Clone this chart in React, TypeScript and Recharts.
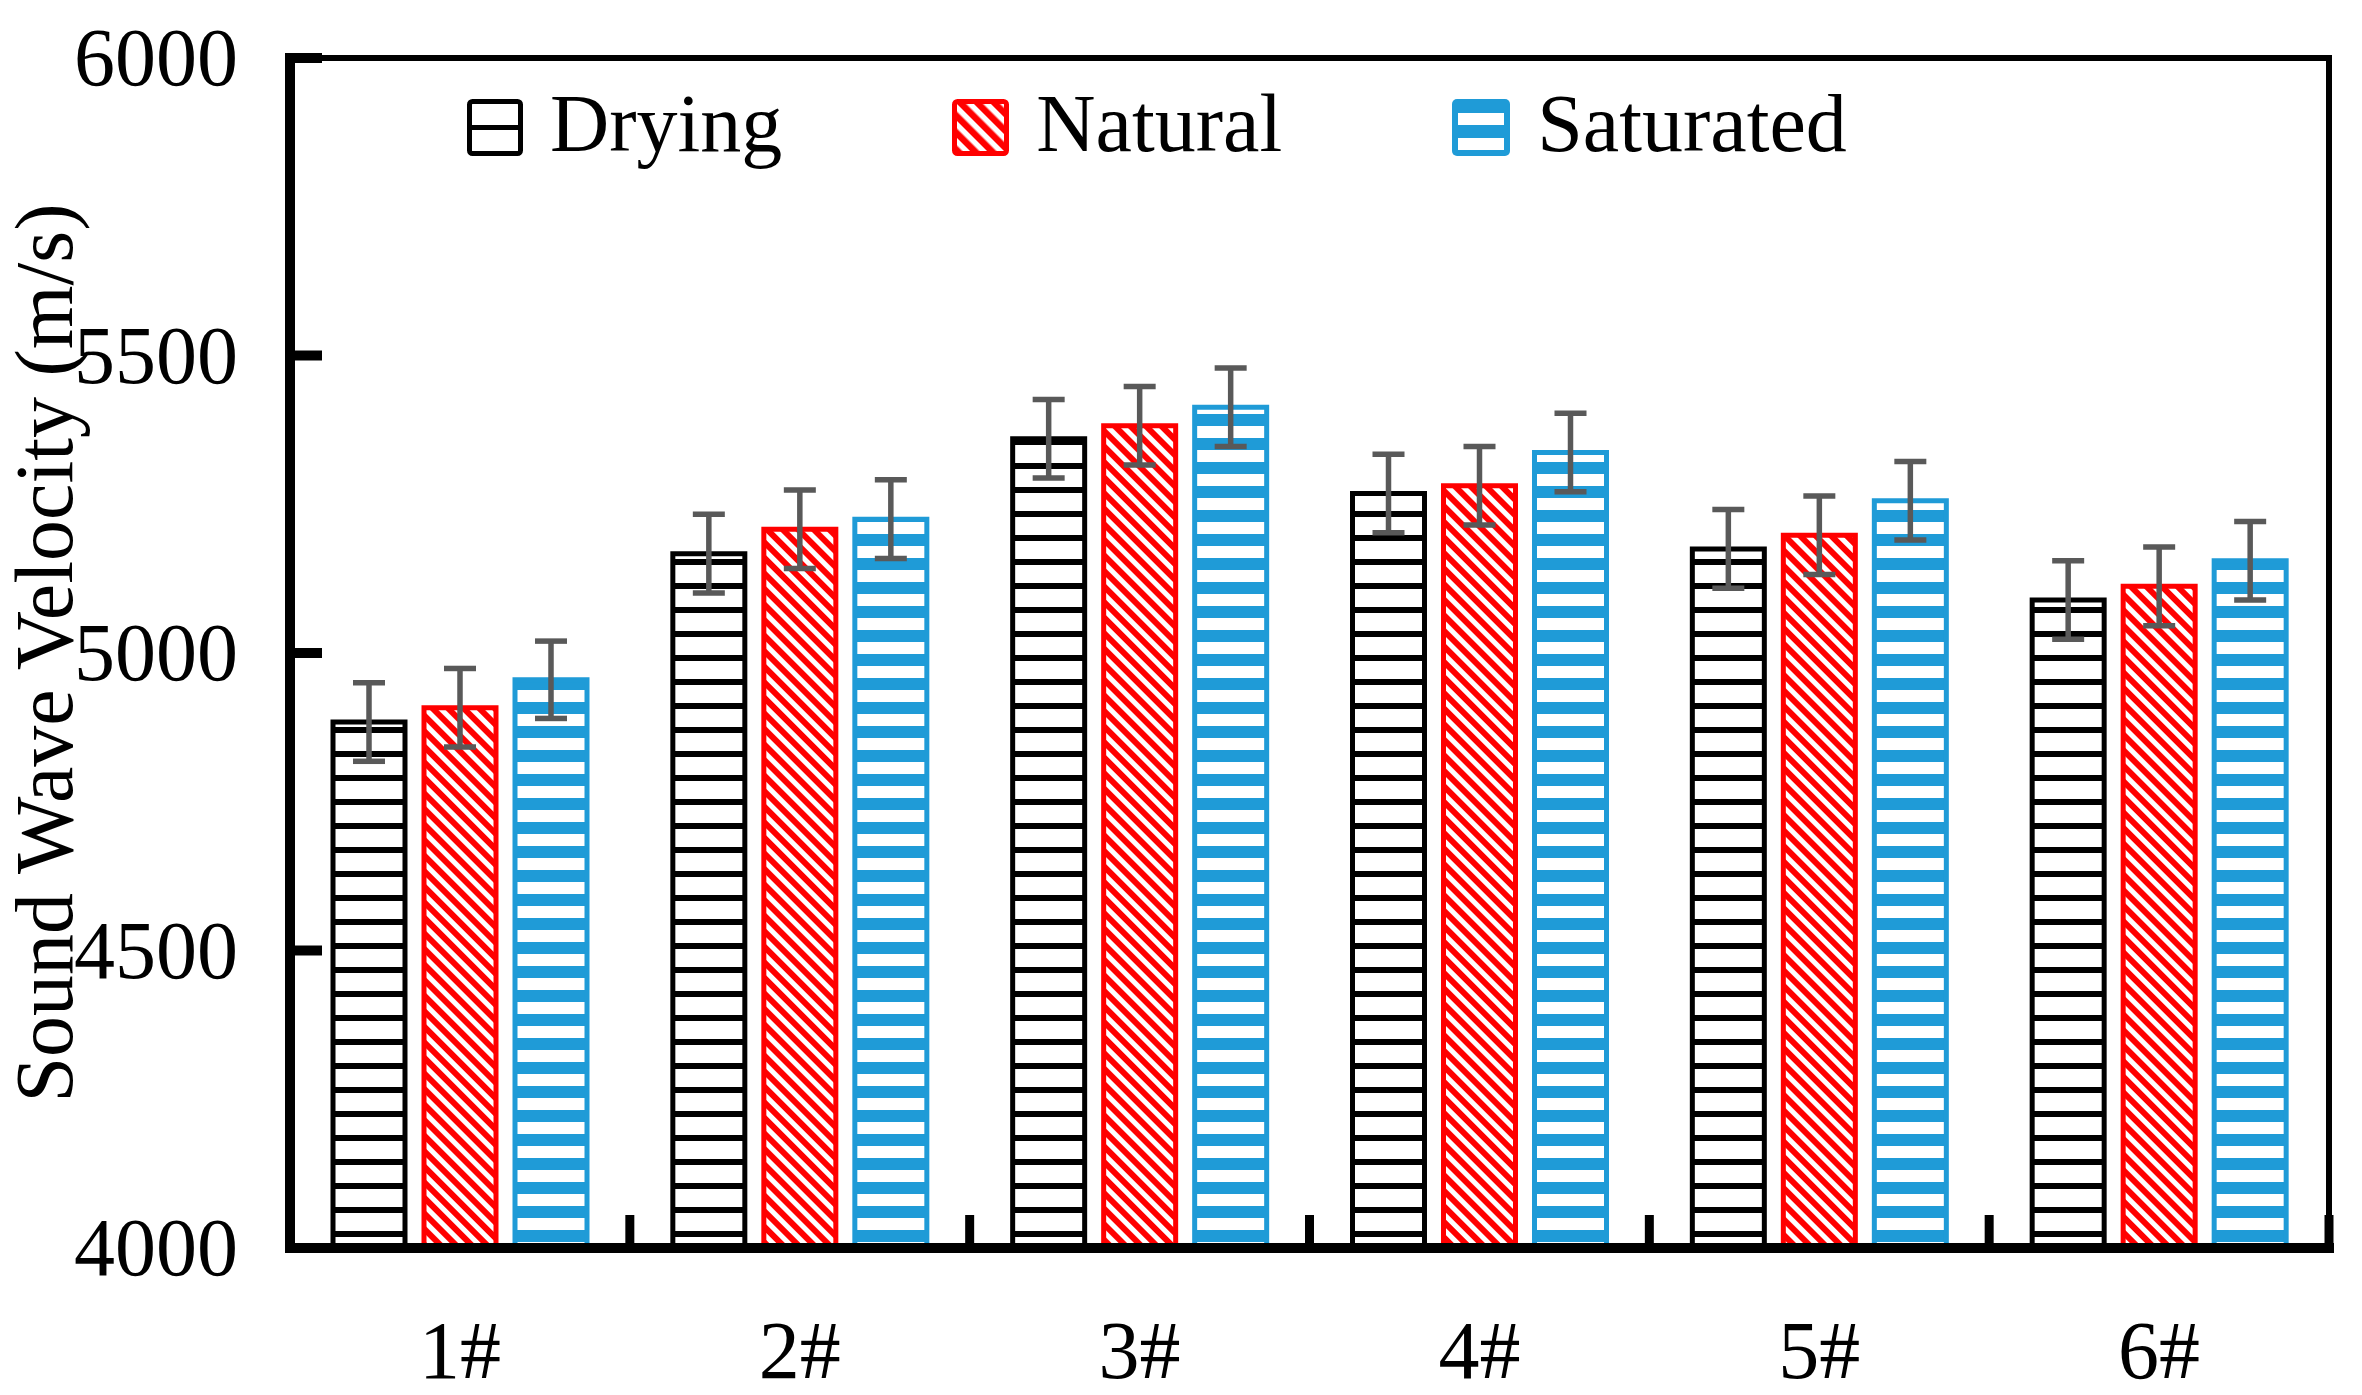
import React from 'react';
import { BarChart, Bar, XAxis, YAxis, ErrorBar } from 'recharts';

const categories = ['1#', '2#', '3#', '4#', '5#', '6#'];
const drying = [4884, 5167, 5360, 5268, 5175, 5089];
const natural = [4908, 5208, 5382, 5281, 5198, 5112];
const saturated = [4955, 5225, 5413, 5337, 5256, 5155];
const dryingErr = [66, 66, 66, 66, 66, 66];
const naturalErr = [66, 66, 66, 66, 66, 66];
const saturatedErr = [65, 66, 66, 66, 66, 66];
const yTicks = [4000, 4500, 5000, 5500, 6000];
const seriesNames = ['Drying', 'Natural', 'Saturated'];

const data = categories.map((name, i) => ({
  name,
  drying: drying[i],
  natural: natural[i],
  saturated: saturated[i],
  dErr: dryingErr[i],
  nErr: naturalErr[i],
  sErr: saturatedErr[i],
}));

const FONT = '"Liberation Serif", "Times New Roman", serif';
const BLUE = '#1F9BD7';
const RED = '#FF0000';
const ERR = '#595959';

const Y_MARGIN = 52;

const YTick = (props: any) => {
  const { x, y, payload } = props;
  const ax = x + Y_MARGIN;
  return (
    <g>
      <line x1={ax} x2={ax + 32} y1={y} y2={y} stroke="#000" strokeWidth={10} />
      <text x={x} y={y + 27} textAnchor="end" fontFamily={FONT} fontSize={82} fill="#000">
        {payload.value}
      </text>
    </g>
  );
};

const XTick = (props: any) => {
  const { x, y, payload } = props;
  const off = payload && typeof payload.offset === 'number' ? payload.offset : 0;
  const bx = x + off;
  return (
    <g>
      <line x1={bx} x2={bx} y1={y} y2={y - 33} stroke="#000" strokeWidth={9} />
      <text x={x} y={y + 130} textAnchor="middle" fontFamily={FONT} fontSize={82} fill="#000">
        {payload.value}
      </text>
    </g>
  );
};

const YLabel = (props: any) => {
  const vb = props.viewBox || { x: 40, y: 58, width: 250, height: 1190 };
  const cx = vb.x + 32;
  const cy = vb.y + vb.height / 2;
  return (
    <text
      transform={`translate(${cx}, ${cy}) rotate(-90)`}
      textAnchor="middle"
      fontFamily={FONT}
      fontSize={82}
      fill="#000"
    >
      Sound Wave Velocity (m/s)
    </text>
  );
};

const Swatch = ({ kind }: { kind: string }) => {
  if (kind === 'Drying') {
    return (
      <svg width={56} height={57} style={{ display: 'block' }}>
        <rect x={2.5} y={2.5} width={51} height={52} rx={3} fill="#fff" stroke="#000" strokeWidth={5} />
        <rect x={4} y={26} width={48} height={5} fill="#000" />
      </svg>
    );
  }
  if (kind === 'Natural') {
    return (
      <svg width={57} height={57} style={{ display: 'block' }}>
        <rect x={2.5} y={2.5} width={52} height={52} rx={3} fill="url(#pNatLegend)" stroke={RED} strokeWidth={5} />
      </svg>
    );
  }
  return (
    <svg width={58} height={57} style={{ display: 'block' }}>
      <rect x={0} y={0} width={58} height={57} rx={5} fill={BLUE} />
      <rect x={6} y={14} width={46} height={12} fill="#fff" />
      <rect x={6} y={39} width={46} height={12} fill="#fff" />
    </svg>
  );
};

export default function App() {
  return (
    <div style={{ position: 'absolute', left: 0, top: 0, width: 2362, height: 1395, background: '#fff' }}>
      <BarChart
        width={2362}
        height={1395}
        data={data}
        margin={{ top: 57, right: 32, left: 40, bottom: 0 }}
        barCategoryGap={43}
        barGap={19}
      >
        <defs>
          <pattern id="pDry" patternUnits="userSpaceOnUse" width={24} height={24}>
            <rect width={24} height={24} fill="#fff" />
            <rect y={7} width={24} height={6} fill="#000" />
          </pattern>
          <pattern id="pSat" patternUnits="userSpaceOnUse" width={24} height={24}>
            <rect width={24} height={24} fill={BLUE} />
            <rect y={18} width={24} height={6} fill="#fff" />
            <rect y={0} width={24} height={6} fill="#fff" />
          </pattern>
          <pattern id="pNat" patternUnits="userSpaceOnUse" width={11} height={11} patternTransform="rotate(-45)">
            <rect width={11} height={11} fill="#fff" />
            <rect width={6} height={11} fill={RED} />
          </pattern>
          <pattern id="pNatLegend" patternUnits="userSpaceOnUse" width={12} height={12} patternTransform="rotate(-45)">
            <rect width={12} height={12} fill="#fff" />
            <rect width={6.5} height={12} fill={RED} />
          </pattern>
        </defs>
        <XAxis
          xAxisId="x"
          dataKey="name"
          height={147}
          tickSize={0}
          tickMargin={0}
          tickLine={false}
          axisLine={{ stroke: '#000', strokeWidth: 10, strokeLinecap: 'square' }}
          tick={<XTick />}
          interval={0}
        />
        <XAxis
          xAxisId="top"
          dataKey="name"
          orientation="top"
          height={1}
          tick={false}
          tickLine={false}
          axisLine={{ stroke: '#000', strokeWidth: 6, strokeLinecap: 'square' }}
        />
        <YAxis
          yAxisId="y"
          width={250}
          domain={[4000, 6000]}
          ticks={yTicks}
          type="number"
          allowDataOverflow
          tickSize={0}
          tickMargin={Y_MARGIN}
          tickLine={false}
          axisLine={{ stroke: '#000', strokeWidth: 10, strokeLinecap: 'square' }}
          tick={<YTick />}
          interval={0}
          label={{ content: <YLabel /> }}
        />
        <YAxis
          yAxisId="right"
          orientation="right"
          width={1}
          domain={[4000, 6000]}
          type="number"
          tick={false}
          tickLine={false}
          axisLine={{ stroke: '#000', strokeWidth: 6, strokeLinecap: 'square' }}
        />
        <Bar
          xAxisId="x"
          yAxisId="y"
          dataKey="drying"
          name={seriesNames[0]}
          fill="url(#pDry)"
          stroke="#000"
          strokeWidth={5}
          isAnimationActive={false}
        >
          <ErrorBar dataKey="dErr" width={16} strokeWidth={5.5} stroke={ERR} direction="y" />
        </Bar>
        <Bar
          xAxisId="x"
          yAxisId="y"
          dataKey="natural"
          name={seriesNames[1]}
          fill="url(#pNat)"
          stroke={RED}
          strokeWidth={5}
          isAnimationActive={false}
        >
          <ErrorBar dataKey="nErr" width={16} strokeWidth={5.5} stroke={ERR} direction="y" />
        </Bar>
        <Bar
          xAxisId="x"
          yAxisId="y"
          dataKey="saturated"
          name={seriesNames[2]}
          fill="url(#pSat)"
          stroke={BLUE}
          strokeWidth={5}
          isAnimationActive={false}
        >
          <ErrorBar dataKey="sErr" width={16} strokeWidth={5.5} stroke={ERR} direction="y" />
        </Bar>
      </BarChart>
      <div
        style={{
          position: 'absolute',
          left: 467,
          top: 83,
          display: 'flex',
          alignItems: 'flex-start',
          fontFamily: FONT,
          fontSize: 82,
          lineHeight: '82px',
          color: '#000',
          whiteSpace: 'nowrap',
        }}
      >
        {seriesNames.map((n, i) => (
          <div key={n} style={{ display: 'flex', alignItems: 'flex-start', marginLeft: i === 0 ? 0 : 170 }}>
            <div style={{ marginTop: 16 }}>
              <Swatch kind={n} />
            </div>
            <span style={{ marginLeft: 27 }}>{n}</span>
          </div>
        ))}
      </div>
    </div>
  );
}
